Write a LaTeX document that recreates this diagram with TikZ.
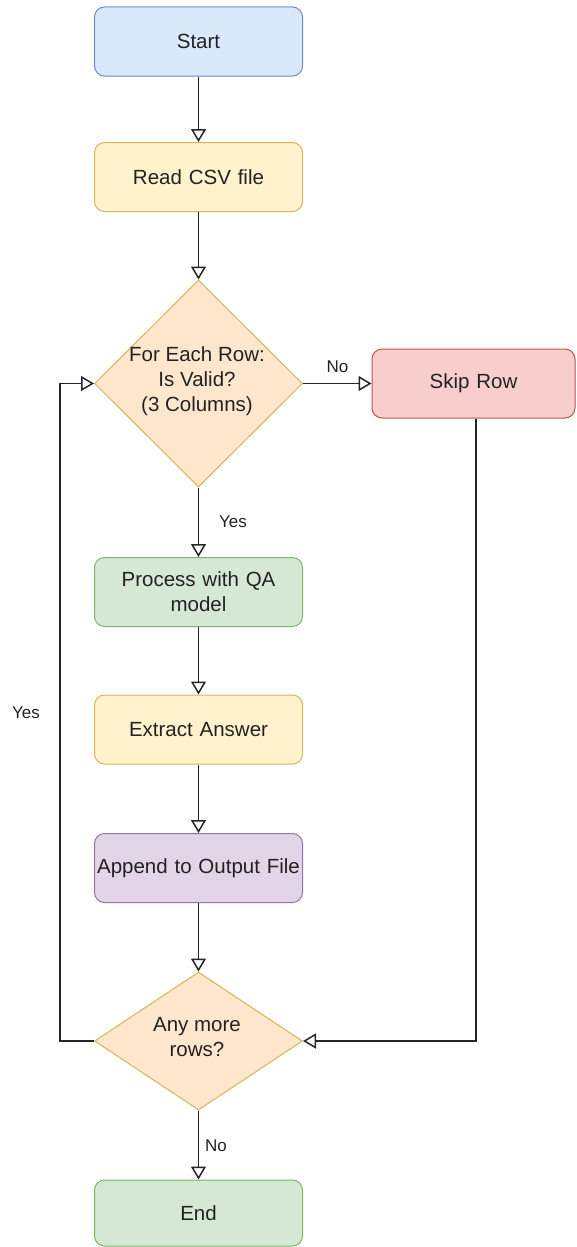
\documentclass[tikz,border=0pt]{standalone}
\usepackage{fontspec}
\setmainfont{Liberation Sans}
\usetikzlibrary{arrows.meta,shapes.geometric}
\definecolor{bluefill}{HTML}{DAE8FC}\definecolor{bluedraw}{HTML}{6C8EBF}
\definecolor{yelfill}{HTML}{FFF2CC}\definecolor{yeldraw}{HTML}{D6B656}
\definecolor{orafill}{HTML}{FFE6CC}\definecolor{oradraw}{HTML}{D6B656}
\definecolor{redfill}{HTML}{F8CECC}\definecolor{reddraw}{HTML}{B85450}
\definecolor{grnfill}{HTML}{D5E8D4}\definecolor{grndraw}{HTML}{82B366}
\definecolor{purfill}{HTML}{E1D5E7}\definecolor{purdraw}{HTML}{9673A6}
\definecolor{txt}{HTML}{222222}
\begin{document}
\begin{tikzpicture}[x=1pt,y=-1pt,
  every node/.style={font=\fontsize{20.5}{25}\selectfont, text=txt},
  box/.style={draw, rounded corners=10pt, minimum width=208pt, minimum height=69pt,
    line width=1pt, align=center, inner sep=0pt, text width=206pt},
  dia/.style={draw=oradraw, fill=orafill, diamond, line width=1pt, inner sep=0pt},
  lbl/.style={font=\fontsize{17}{20}\selectfont, inner sep=0pt},
  conn/.style={line width=1.5pt, draw=black!85, -{Triangle[open, length=13pt, width=15pt, line width=1.5pt]}},
]
\useasboundingbox (0,0) rectangle (576,1247);

\node[box, fill=bluefill, draw=bluedraw] (start) at (198.5,41.5) {Start};
\node[box, fill=yelfill, draw=yeldraw] (read) at (198.5,177) {Read CSV file};
\node[dia, minimum width=208pt, minimum height=207pt] (valid) at (198.5,383.5) {};
\node[align=center, inner sep=0pt] (validtxt) at (197,381) {For Each Row:\\Is Valid?\\(3 Columns)};
\node[box, fill=redfill, draw=reddraw, minimum width=203pt, text width=200pt] (skip) at (473.5,383.5) {Skip Row};
\node[box, fill=grnfill, draw=grndraw] (proc) at (198.5,592) {Process with QA\\model};
\node[box, fill=yelfill, draw=yeldraw] (extract) at (198.5,729.5) {Extract Answer};
\node[box, fill=purfill, draw=purdraw] (append) at (198.5,868) {Append to Output File};
\node[dia, minimum width=208pt, minimum height=138pt] (more) at (198.5,1041) {};
\node[align=center, inner sep=0pt] (moretxt) at (197,1037) {Any more\\rows?};
\node[box, fill=grnfill, draw=grndraw, minimum height=66pt] (end) at (198.5,1213) {End};

\coordinate (skipdown) at (476,1041);
\coordinate (loopbot) at (60,1041);
\coordinate (looptop) at (60,383.5);

\draw[conn] (start) -- (read);
\draw[conn] (read) -- (valid.north);
\draw[conn] (valid.east) -- (skip.west);
\draw[conn] (valid.south) -- (proc);
\draw[conn] (proc) -- (extract);
\draw[conn] (extract) -- (append);
\draw[conn] (append) -- (more.north);
\draw[conn] (more.south) -- (end);
\draw[conn] (skip.south -| skipdown) -- (skipdown) -- (more.east);
\draw[conn] (more.west) -- (loopbot) -- (looptop) -- (valid.west);

\node[lbl] (lno1) at (337.5,367) {No};
\node[lbl] (lyes1) at (233,522) {Yes};
\node[lbl] (lyes2) at (26,713) {Yes};
\node[lbl] (lno2) at (216,1146) {No};
\end{tikzpicture}
\end{document}
